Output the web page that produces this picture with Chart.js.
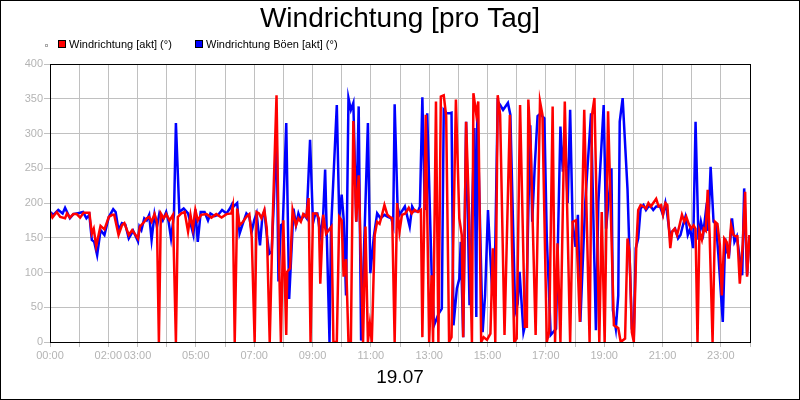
<!DOCTYPE html>
<html>
<head>
<meta charset="utf-8">
<script src="https://cdn.jsdelivr.net/npm/chart.js@4.4.1/dist/chart.umd.min.js"></script>
<style>
html,body{margin:0;padding:0;background:#fff;}
canvas{display:block;}
</style>
</head>
<body>
<canvas id="c" width="800" height="400"></canvas>
<script>
// time in minutes since 00:00, direction in degrees
const redT = [1,5,14,21,31,35,41,48,55,62,69,81,86,90,95,104,112,121,128,132,141,148,153,162,169,181,185,
194,199,204,209,215,220,224,228,234,239,246,253,259,263,270,277,284,289,294,299,304,311,322,332,342,353,363,373,376,380,
385,390,397,404,410,415,421,425,430,435,441,446,452,458,466,471,475,480,486,488,494,499,506,511,516,521,527,532,536,541,548,553,556,562,568,
579,583,590,595,600,604,609,614,619,624,630,635,644,649,654,658,662,668,673,678,683,688,694,699,704,709,714,719,724,731,738,744,750,757,763,766,
773,780,785,788,794,799,804,810,815,821,826,835,842,847,850,856,861,868,871,877,881,887,892,899,906,911,916,921,926,935,946,950,955,960,
967,977,981,984,989,999,1008,1013,1022,1027,1034,1039,1044,1050,1059,1070,1075,1082,1090,1099,1110,1115,1120,1130,1135,1141,1148,
1160,1169,1174,1183,1188,1192,1197,1201,1206,1210,1215,1221,1226,1231,1236,1241,1247,1252,1257,1261,1266,1270,1276,1280,1285,1290,1295,1300,1305,1309,1314,1319,1324,1328,1332,
1336,1341,1345,1349,1353,1357,1363,1368,1373,1378,1382,1387,1392,1396,1401,1406,1410,1414,1419,1425,1430,1434,1439];
const redV = [186,179,187,180,178,185,179,184,184,179,186,186,156,163,138,167,162,180,183,183,154,168,171,154,161,149,166,
173,178,180,173,184,173,0,185,178,184,175,183,0,180,185,187,159,183,163,190,175,183,184,179,184,179,184,185,195,0,
192,168,173,180,184,151,0,187,185,178,190,163,0,173,355,125,0,175,10,101,106,190,168,178,173,184,180,207,0,185,185,178,84,183,156,
166,0,0,180,175,94,119,0,0,318,173,240,0,166,0,26,0,154,173,170,183,197,183,180,178,0,200,159,183,185,193,185,190,187,190,7,
327,0,96,0,346,0,353,355,325,0,7,349,178,154,7,317,210,0,358,327,346,0,7,3,12,135,0,355,327,10,327,150,0,5,
341,22,22,349,280,10,346,327,0,15,339,0,142,0,346,0,173,175,29,334,0,327,351,0,187,0,332,
24,20,0,5,149,130,14,0,135,190,197,195,192,200,195,200,206,195,197,183,200,197,135,159,163,154,168,183,173,180,170,163,168,163,0,
159,147,163,160,219,154,0,173,170,140,67,149,144,120,168,154,152,152,84,140,216,94,154];

const blueT = [1,7,17,26,31,41,48,62,68,75,81,86,91,97,104,112,121,130,135,141,148,155,162,171,181,
184,188,194,199,204,209,215,220,225,232,239,244,249,255,259,266,275,284,289,295,299,304,310,318,325,330,339,346,354,363,370,375,378,
385,390,397,404,410,415,420,425,432,437,441,446,451,456,461,466,470,475,479,486,492,495,501,506,511,516,523,528,535,541,546,550,556,562,566,575,
578,590,595,600,604,609,614,619,624,630,635,640,648,654,659,666,673,680,688,695,702,706,709,715,719,730,740,745,750,757,761,766,
771,776,785,790,799,806,810,816,821,826,830,837,842,845,850,856,863,873,877,879,890,895,901,910,916,921,926,932,942,947,957,962,
966,974,979,988,992,997,1003,1008,1017,1022,1030,1041,1050,1055,1059,1065,1070,1075,1081,1086,1091,1101,1113,1123,1128,1139,1144,1155,
1158,1164,1169,1172,1178,1188,1197,1201,1205,1210,1215,1221,1226,1231,1236,1241,1247,1255,1261,1266,1269,1275,1280,1286,1292,1297,1302,1307,1312,1317,1323,1328,
1334,1339,1344,1349,1354,1359,1365,1370,1375,1384,1389,1392,1397,1403,1408,1413,1418,1424,1428,1434,1439];
const blueV = [187,183,190,185,193,178,184,186,187,178,183,147,144,125,161,154,180,191,187,161,171,169,149,160,145,
166,161,178,175,183,147,184,166,185,175,187,173,149,183,315,187,192,185,171,154,191,144,187,187,175,185,181,183,190,185,192,199,195,
200,156,171,185,180,159,175,185,139,182,188,154,127,130,210,310,87,168,170,315,62,106,192,168,185,175,183,178,291,171,185,185,154,183,248,0,
159,341,178,212,178,67,351,334,344,173,339,2,178,315,99,151,185,178,183,180,178,168,342,195,183,195,166,195,188,188,195,352,
190,329,101,24,40,48,334,329,329,330,24,77,91,144,7,317,53,308,36,334,14,67,190,67,139,346,341,334,344,327,43,55,
101,14,29,312,173,250,325,328,322,149,10,19,310,245,300,200,334,173,137,183,29,200,329,17,200,341,163,250,
46,19,67,317,351,220,19,10,135,149,192,197,190,195,195,190,195,195,183,200,188,154,159,163,149,154,168,180,154,163,135,317,
147,173,157,187,160,252,173,170,125,29,149,130,125,178,144,152,125,96,221,96,154];

const hourLabels = [0,2,3,5,7,9,11,13,15,17,19,21,23];
const yTicks = [0,50,100,150,200,250,300,350,400];
const titleText = 'Windrichtung [pro Tag]';
const dateText = '19.07';
const redLabel = 'Windrichtung [akt] (°)';
const blueLabel = 'Windrichtung Böen [akt] (°)';

const FONT = "'Liberation Sans', Arial, sans-serif";
const pts = (T, V) => T.map((t, i) => ({x: t, y: V[i]}));

const framePlugin = {
  id: 'frame',
  beforeDraw(chart) {
    const ctx = chart.ctx;
    ctx.save();
    ctx.fillStyle = '#fff';
    ctx.fillRect(0, 0, chart.width, chart.height);
    ctx.restore();
  },
  afterDraw(chart) {
    const ctx = chart.ctx;
    const a = chart.chartArea;
    ctx.save();
    ctx.strokeStyle = '#000';
    ctx.lineWidth = 1;
    ctx.strokeRect(Math.round(a.left) + 0.5, Math.round(a.top) + 0.5, Math.round(a.right - a.left), Math.round(a.bottom - a.top));
    ctx.strokeRect(0.5, 0.5, chart.width - 1, chart.height - 1);
    // legend
    ctx.font = '11px ' + FONT;
    ctx.textBaseline = 'middle';
    ctx.textAlign = 'left';
    ctx.strokeStyle = '#aaaaaa';
    ctx.strokeRect(45.5, 44.5, 2, 2);
    const items = [
      {x: 58, color: chart.data.datasets[0].borderColor, text: chart.data.datasets[0].label},
      {x: 195, color: chart.data.datasets[1].borderColor, text: chart.data.datasets[1].label}
    ];
    items.forEach(it => {
      ctx.fillStyle = it.color;
      ctx.fillRect(it.x, 40, 8, 8);
      ctx.strokeStyle = '#000';
      ctx.strokeRect(it.x + 0.5, 40.5, 7, 7);
      ctx.fillStyle = '#000';
      ctx.fillText(it.text, it.x + 11, 44.5);
    });
    ctx.restore();
  }
};

new Chart(document.getElementById('c'), {
  type: 'line',
  data: {
    datasets: [
      {label: redLabel, data: pts(redT, redV), borderColor: '#ff0000', backgroundColor: '#ff0000', borderWidth: 2.5, pointRadius: 0, tension: 0, fill: false},
      {label: blueLabel, data: pts(blueT, blueV), borderColor: '#0000ff', backgroundColor: '#0000ff', borderWidth: 2.5, pointRadius: 0, tension: 0, fill: false}
    ]
  },
  options: {
    responsive: false,
    devicePixelRatio: 1,
    animation: false,
    layout: {padding: {left: 0, right: 0, top: 0, bottom: 0}},
    plugins: {
      legend: {display: false},
      tooltip: {enabled: false},
      title: {
        display: true,
        text: titleText,
        color: '#000',
        font: {family: FONT, size: 28, weight: 'normal', lineHeight: 1.2},
        padding: {top: 2, bottom: 28.4}
      }
    },
    scales: {
      x: {
        type: 'linear',
        min: 0,
        max: 1440,
        afterBuildTicks(scale) {
          const t = [];
          for (let h = 0; h <= 24; h++) t.push({value: h * 60});
          scale.ticks = t;
        },
        afterFit(scale) { scale.height = 58; },
        ticks: {
          autoSkip: false,
          maxRotation: 0,
          padding: 2,
          color: '#b4b4b4',
          font: {family: FONT, size: 11},
          callback(v) {
            const h = Math.round(v / 60);
            return hourLabels.includes(h) && h < 24 ? String(h).padStart(2, '0') + ':00' : '';
          }
        },
        grid: {color: '#c0c0c0', lineWidth: 1, tickLength: 5, drawTicks: true},
        border: {color: '#000', width: 1},
        title: {
          display: true,
          text: dateText,
          color: '#000',
          font: {family: FONT, size: 19, lineHeight: 1.2},
          padding: {top: 0, bottom: 11}
        }
      },
      y: {
        min: 0,
        max: 400,
        afterBuildTicks(scale) { scale.ticks = yTicks.map(v => ({value: v})); },
        afterFit(scale) { scale.width = 50; },
        ticks: {
          padding: 1,
          color: '#b4b4b4',
          font: {family: FONT, size: 11}
        },
        grid: {color: '#c0c0c0', lineWidth: 1, tickLength: 6},
        border: {color: '#000', width: 1}
      },
      yRight: {
        position: 'right',
        min: 0,
        max: 400,
        afterFit(scale) { scale.width = 50; },
        ticks: {display: false},
        grid: {display: false, drawTicks: false},
        border: {display: false}
      }
    }
  },
  plugins: [framePlugin]
});
</script>
</body>
</html>
